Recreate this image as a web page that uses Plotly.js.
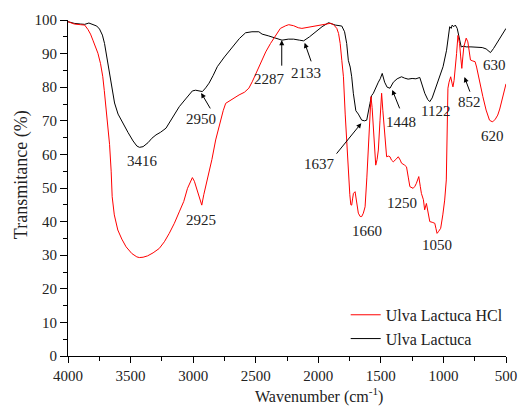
<!DOCTYPE html>
<html>
<head>
<meta charset="utf-8">
<script src="https://cdn.plot.ly/plotly-3.0.1.min.js"></script>
<style>html,body{margin:0;padding:0;background:#fff;}#chart{width:520px;height:409px;}</style>
</head>
<body>
<div id="chart"></div>
<script>
// Ulva Lactuca (black)
const ulvaWavenumber = [4000,3950,3900,3867,3833,3800,3770,3748,3725,3708,3690,3668,3648,3628,3600,3562,3520,3480,3450,3429,3400,3360,3330,3297,3260,3217,3170,3111,3060,3006,2980,2958,2940,2926,2900,2873,2840,2807,2750,2687,2630,2581,2530,2475,2449,2400,2340,2290,2240,2197,2150,2117,2070,2024,1970,1918,1890,1865,1812,1790,1773,1760,1745,1733,1720,1700,1680,1665,1653,1630,1613,1587,1574,1560,1540,1520,1505,1489,1470,1450,1427,1400,1370,1335,1310,1282,1250,1220,1189,1170,1149,1125,1109,1090,1069,1035,1003,975,960,950,938,930,918,905,890,876,858,840,818,780,750,725,690,659,640,624,600,566,540,508,500];
const ulvaT = [99.5,99.0,98.8,98.7,99.1,98.7,98.2,97.3,95.5,93,89,83,78.5,75.3,72,69.3,66.5,64,62.5,62.1,62.3,63.5,64.8,65.8,66.6,67.8,70.5,74.2,76.5,78.9,79.1,79.0,78.8,78.7,79.8,81.2,83.5,86.1,89,92.0,94.5,96.2,96.5,96.5,95.8,95.3,94.6,94.0,94.3,94.3,94.0,93.8,95.0,96.5,98.0,99.2,98.8,98.5,98.2,96.5,93,88,86,83.1,78.2,73,72.0,70.7,70.2,70.0,70.2,75.2,77.5,78.2,80.0,81.5,82.5,84.1,81.5,80.0,79.7,81.5,82.5,83.1,82.7,82.4,82.6,82.5,82.9,80.5,78.2,76.3,75.7,76.8,79.2,83,86.1,91,95,98,97.5,98.5,98,98.5,97.5,95,92,92.2,92,92,91.9,91.9,91.8,91.4,90.7,90.3,91.5,93.5,95.2,97,97.5];

// Ulva Lactuca HCl (red)
const hclWavenumber = [4000,3950,3900,3867,3841,3820,3801,3780,3761,3740,3722,3710,3695,3680,3668,3655,3647,3630,3602,3570,3536,3490,3450,3430,3400,3364,3320,3271,3230,3191,3150,3111,3075,3045,3020,3006,2990,2966,2945,2931,2915,2900,2873,2850,2820,2790,2760,2740,2687,2633,2590,2555,2528,2500,2475,2449,2420,2382,2340,2303,2260,2236,2197,2160,2131,2090,2051,2000,1958,1905,1880,1852,1838,1825,1812,1799,1785,1772,1765,1759,1748,1740,1733,1725,1719,1706,1700,1693,1680,1665,1653,1640,1626,1612,1600,1590,1579,1570,1560,1550,1541,1530,1520,1507,1494,1484,1473,1454,1440,1427,1415,1401,1380,1361,1345,1335,1310,1295,1280,1268,1242,1228,1216,1197,1185,1176,1160,1150,1136,1120,1109,1090,1069,1060,1051,1040,1022,1005,990,977,970,964,955,942,930,924,915,905,895,884,871,862,853,845,837,818,805,799,784,765,747,735,725,700,685,659,645,632,620,606,585,566,550,539,520,508,500];
const hclT = [99.5,98.8,98.6,98.5,97.2,95.8,94,92.2,90.1,87,83.1,79,73.2,67.5,63,55,47.4,42,37.5,34.8,32.5,30.5,29.5,29.3,29.4,29.8,30.7,32,34,36.5,39.5,42.9,46,49.9,52.3,53.1,52,48.9,46,44.9,48,50.5,54.4,58.5,64.3,69,73,75.2,76.5,77.7,78.5,79.7,81.6,84,86.1,88.1,90.5,93,95.5,97.5,98.3,98.6,98.3,97.7,97.5,97.8,98,98.3,98.8,99,98.7,97.5,96,93,88,83.1,72,63.5,58,53.4,48,45,44.9,47,48.4,48.9,47.5,45.4,42.5,41.5,41.5,42.5,44.4,53,63.3,71,77.2,74,68.2,61,56.8,58.5,61.3,70,78.2,73,68.2,59.3,59.5,59.3,58.3,57.8,58.5,59.3,58.3,57.4,56.8,56.3,53,50.4,49.9,50.5,51.4,53.4,50.5,48.4,46.5,43.5,45.4,41.5,40,39.8,39.5,38,36.5,37,38,42,46.4,52.4,65,79.7,81.5,83.1,81,80.1,82,85.1,90,95.4,93,89,85.6,89,92,94.6,93.5,92,88.1,87.8,87.6,86,84.1,80,77.2,73.2,71.5,70.2,69.9,69.7,70.5,71.7,73.5,75.2,77.5,80.1,81];

const seriesNames = ["Ulva Lactuca HCl", "Ulva Lactuca"];
const xTickVals = [4000,3500,3000,2500,2000,1500,1000,500];
const yTickVals = [0,10,20,30,40,50,60,70,80,90,100];
const xTitle = "Wavenumber (cm<sup>-1</sup>)";
const yTitle = "Transmitance (%)";

// Peak labels: [text, x, y]
const plainLabels = [
  ["3416", 3402, 58.0],
  ["2925", 2936, 40.6],
  ["1122", 1067, 72.8],
  ["630", 594, 86.6],
  ["620", 606, 65.5],
  ["1660", 1612, 37.1],
  ["1250", 1334, 45.4],
  ["1050", 1055, 33.0],
  ["2950", 2936, 70.5],
  ["2287", 2392, 82.3],
  ["2133", 2097, 84.2],
  ["1637", 1990, 57.1],
  ["1448", 1342, 69.5],
  ["852", 793, 75.6]
];
// Arrows: [headX, headY, tailOffsetX(px), tailOffsetY(px)]
const arrows = [
  [2936, 78.3, 10, 17],
  [2292, 94.0, 0, 27],
  [2109, 93.2, 7, 20],
  [1656, 69.3, -26, 32],
  [1409, 79.2, 8, 20],
  [832, 83.0, 6, 16]
];

const FONT = "Liberation Serif, Times New Roman, serif";
const TXT = "#222";

const traces = [
  {x: ulvaWavenumber, y: ulvaT, name: seriesNames[1], type: "scatter", mode: "lines",
   line: {color: "#000000", width: 1}},
  {x: hclWavenumber, y: hclT, name: seriesNames[0], type: "scatter", mode: "lines",
   line: {color: "#ff0000", width: 1}}
];

const annotations = [];
plainLabels.forEach(p => annotations.push({
  x: p[1], y: p[2], xref: "x", yref: "y", text: p[0], showarrow: false,
  font: {family: FONT, size: 15, color: TXT}
}));
arrows.forEach(a => annotations.push({
  x: a[0], y: a[1], xref: "x", yref: "y", text: "", showarrow: true,
  ax: a[2], ay: a[3], arrowhead: 2, arrowsize: 1, arrowwidth: 1, arrowcolor: "#000", standoff: 0
}));
// Axis titles
annotations.push({x: 0.573, y: -0.153, xref: "paper", yref: "paper", text: xTitle, showarrow: false,
  xanchor: "center", yanchor: "bottom", borderpad: 0, font: {family: FONT, size: 16, color: TXT}});
annotations.push({x: -0.1045, y: 0.539, xref: "paper", yref: "paper", text: yTitle, showarrow: false,
  textangle: -90, xanchor: "center", yanchor: "middle", font: {family: FONT, size: 18, color: TXT}});

const layout = {
  width: 520, height: 409,
  margin: {l: 68, r: 12, t: 20, b: 53},
  paper_bgcolor: "#fff", plot_bgcolor: "#fff",
  showlegend: true,
  legend: {x: 0.634, y: 0.173, xanchor: "left", yanchor: "top", traceorder: "reversed",
           bgcolor: "rgba(0,0,0,0)", font: {family: FONT, size: 16, color: TXT},
           itemwidth: 30, tracegroupgap: 0},
  font: {family: FONT, size: 15, color: TXT},
  xaxis: {
    range: [4000, 500], tickvals: xTickVals, ticks: "outside", ticklen: 6, tickwidth: 1, tickcolor: "#000",
    showline: true, linecolor: "#000", linewidth: 1, showgrid: false, zeroline: false,
    tickfont: {family: FONT, size: 15, color: TXT},
    minor: {dtick: 250, ticks: "outside", ticklen: 4, tickcolor: "#000", showgrid: false}
  },
  yaxis: {
    range: [0, 100], tickvals: yTickVals, ticks: "outside", ticklen: 7, tickwidth: 1, tickcolor: "#000",
    showline: true, linecolor: "#000", linewidth: 1, showgrid: false, zeroline: false,
    tickfont: {family: FONT, size: 15, color: TXT},
    minor: {dtick: 5, ticks: "outside", ticklen: 4, tickcolor: "#000", showgrid: false}
  },
  annotations: annotations
};

Plotly.newPlot("chart", traces, layout, {displayModeBar: false, staticPlot: true});
</script>
</body>
</html>
